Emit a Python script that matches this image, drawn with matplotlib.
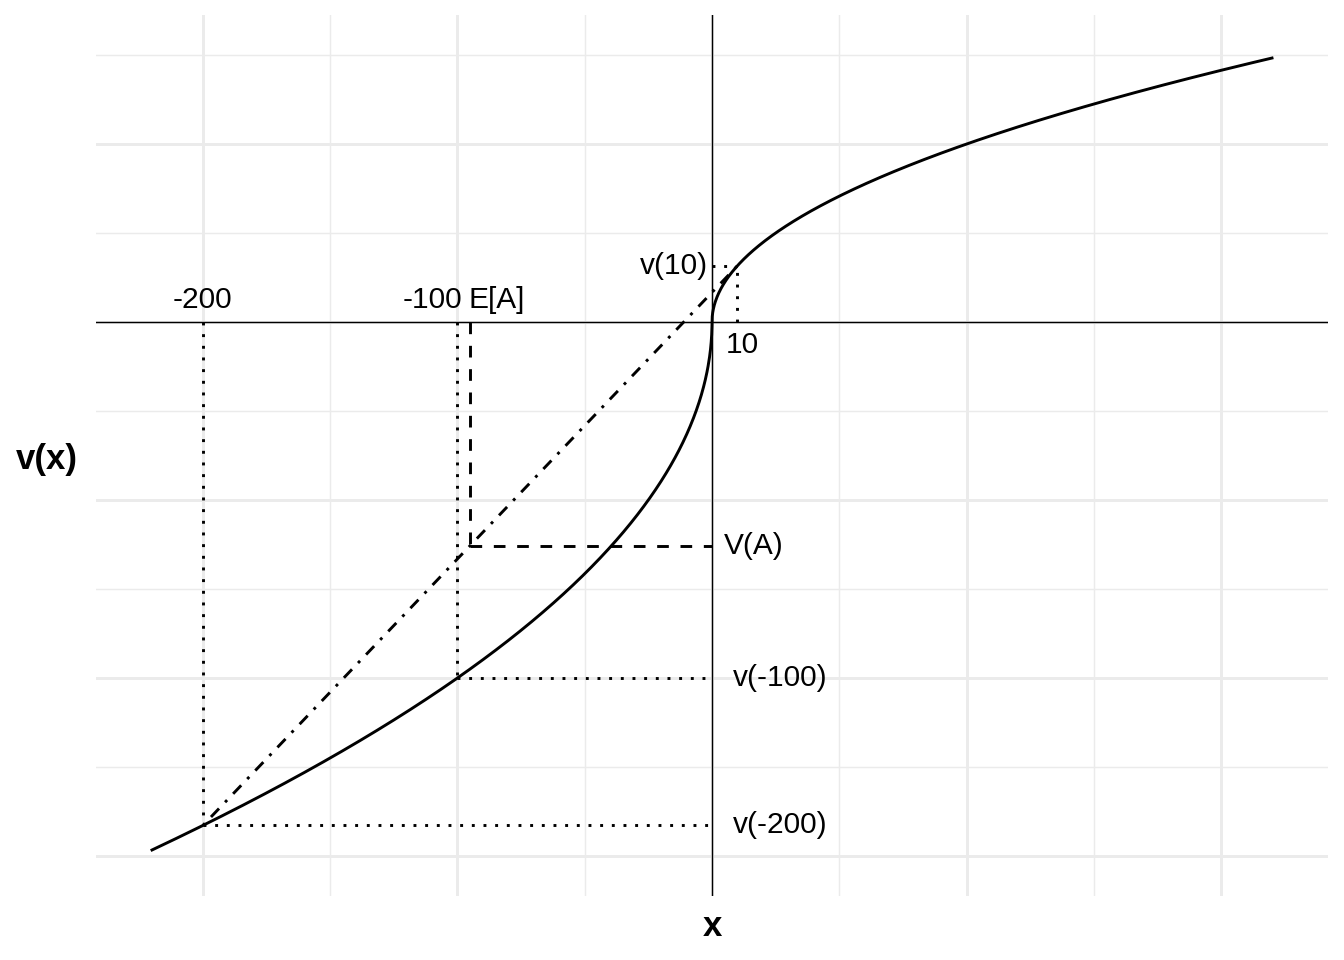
import numpy as np
import matplotlib
matplotlib.use("Agg")
import matplotlib.pyplot as plt
from matplotlib.ticker import MultipleLocator

plt.rcParams['font.family'] = ['Liberation Sans', 'DejaVu Sans']

# --- data ---
alpha = 0.5          # curvature for gains
beta = 0.5           # curvature for losses
lam = 2.0            # loss aversion
x_range = [-220, 220]
outcomes = [10, -200]          # prospect A
probs = [0.5, 0.5]
ref_outcome = -100             # comparison sure outcome
x_lim = [-242, 242]
y_lim = [-32.25, 17.25]


def v(x):
    x = np.asarray(x, dtype=float)
    return np.where(x >= 0, np.abs(x) ** alpha, -lam * np.abs(x) ** beta)


xs = np.linspace(x_range[0], x_range[1], 2001)
xs = np.union1d(xs, np.linspace(-1, 1, 401))
ys = v(xs)

EA = sum(p * o for p, o in zip(probs, outcomes))
VA = sum(p * float(v(o)) for p, o in zip(probs, outcomes))
v10 = float(v(outcomes[0]))
vm200 = float(v(outcomes[1]))
vm100 = float(v(ref_outcome))

top_px, bot_px = 15, 896
left_px, right_px = 96, 1328
fig = plt.figure(figsize=(13.44, 9.6), dpi=100)
ax = fig.add_axes([left_px / 1344, 1 - bot_px / 960,
                   (right_px - left_px) / 1344, (bot_px - top_px) / 960])

grid_col = '#EBEBEB'
ax.xaxis.set_major_locator(MultipleLocator(100))
ax.xaxis.set_minor_locator(MultipleLocator(50))
ax.yaxis.set_major_locator(MultipleLocator(10))
ax.yaxis.set_minor_locator(MultipleLocator(5))
ax.grid(True, which='major', color=grid_col, lw=2.1, zorder=0)
ax.grid(True, which='minor', color=grid_col, lw=1.05, zorder=0)
ax.tick_params(which='both', length=0, labelbottom=False, labelleft=False)
for s in ax.spines.values():
    s.set_visible(False)
ax.set_axisbelow(True)

lw = 2.1
dotted = (0, (1, 3))
dashed = (0, (4, 4))
dotdash = (0, (1, 3, 4, 3))

ax.axhline(0, color='black', lw=1.0, zorder=2)
ax.axvline(0, color='black', lw=1.0, zorder=2)

# dotted guides
ax.plot([outcomes[1], outcomes[1]], [0, vm200], color='black', lw=lw, ls=dotted)
ax.plot([outcomes[1], 0], [vm200, vm200], color='black', lw=lw, ls=dotted)
ax.plot([ref_outcome, ref_outcome], [0, vm100], color='black', lw=lw, ls=dotted)
ax.plot([ref_outcome, 0], [vm100, vm100], color='black', lw=lw, ls=dotted)
ax.plot([outcomes[0], outcomes[0]], [0, v10], color='black', lw=lw, ls=dotted)
ax.plot([0, outcomes[0]], [v10, v10], color='black', lw=lw, ls=dotted)

# dashed E[A] / V(A)
ax.plot([EA, EA], [0, VA], color='black', lw=lw, ls=dashed)
ax.plot([EA, 0], [VA, VA], color='black', lw=lw, ls=dashed)

# dot-dash chord
ax.plot([outcomes[1], outcomes[0]], [vm200, v10], color='black', lw=lw, ls=dotdash)

# value function
ax.plot(xs, ys, color='black', lw=lw, zorder=4)

fs = 21.5
ax.text(-200, 1.25, '-200', ha='center', va='center', fontsize=fs)
ax.text(-110, 1.25, '-100', ha='center', va='center', fontsize=fs)
ax.text(EA + 10.5, 1.25, 'E[A]', ha='center', va='center', fontsize=fs)
ax.text(12, -1.3, '10', ha='center', va='center', fontsize=fs)
ax.text(-15, v10, 'v(10)', ha='center', va='center', fontsize=fs)
ax.text(16.5, VA, 'V(A)', ha='center', va='center', fontsize=fs)
ax.text(26.7, vm100, 'v(-100)', ha='center', va='center', fontsize=fs)
ax.text(26.7, vm200, 'v(-200)', ha='center', va='center', fontsize=fs)

ax.set_xlim(*x_lim)
ax.set_ylim(*y_lim)

ax_h = bot_px - top_px
ax_w = right_px - left_px
ax.set_xlabel('x', fontsize=25, fontweight='bold', va='center')
ax.set_ylabel('v(x)', fontsize=25, fontweight='bold', rotation=0, va='center', ha='center')
ax.xaxis.set_label_coords(0.5, (bot_px - 927) / ax_h)
ax.yaxis.set_label_coords((47 - left_px) / ax_w, (bot_px - 460) / ax_h)

fig.savefig('out.png', dpi=100, facecolor='white')
